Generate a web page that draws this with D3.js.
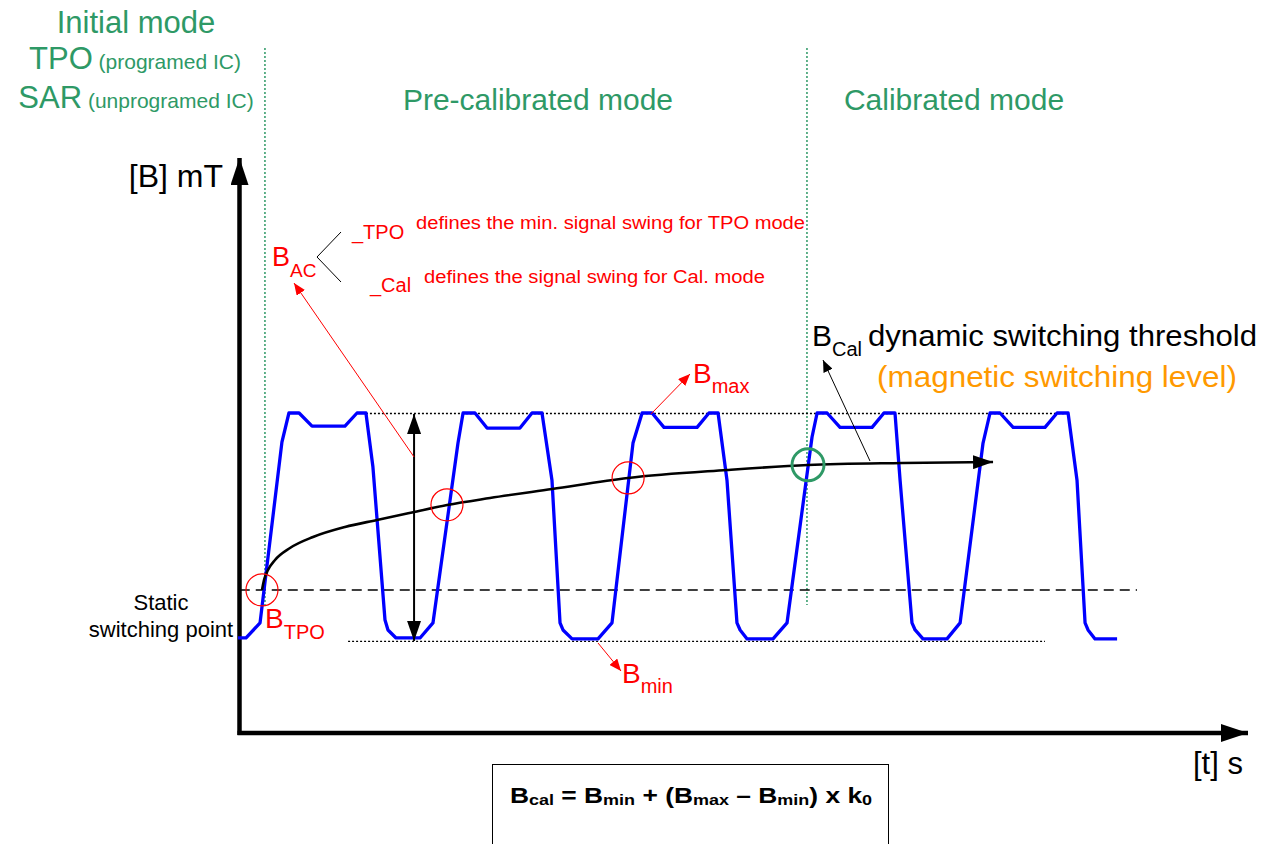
<!DOCTYPE html>
<html><head><meta charset="utf-8">
<script src="https://cdn.jsdelivr.net/npm/d3@7"></script>
<style>
body{margin:0;background:#fff}
svg{display:block}
text{font-family:"Liberation Sans",Arial,Helvetica,sans-serif}
</style>
</head><body>
<svg id="c" width="1273" height="844"></svg>
<script>
// ---------- data ----------
// blue signal: time (arbitrary units, period ~10) and magnetic field B (arbitrary mT units)
const waveT = [0,0.46,1.26,2.51,2.91,3.49,4.23,6.11,6.8,7.31,7.71,8.4,8.57,9.03,
  10.4,11.14,12.57,12.86,13.54,14.23,16.11,16.8,17.37,17.94,18.4,18.57,19.09,
  20.57,21.37,22.57,23.09,23.66,24.34,26.23,26.91,27.43,27.94,28.51,28.69,29.09,
  30.57,31.37,32.8,33.09,33.66,34.4,36.23,36.91,37.54,37.83,38.51,38.69,39.14,
  40.51,41.26,42.57,42.97,43.54,44.29,46.11,46.8,47.43,47.94,48.4,48.57,48.97,50.23];
const waveB = [2.97,2.97,3.44,9.09,10,10,9.59,9.59,10,10,8.31,3.53,3.22,2.97,
  2.97,3.44,9.06,10,10,9.53,9.53,10,10,7.9,3.44,3.22,2.94,
  2.94,3.44,9.06,10,10,9.55,9.55,10,10,7.9,3.44,3.22,2.94,
  2.94,3.44,9.25,10,10,9.55,9.55,10,10,7.9,3.44,3.22,2.94,
  2.94,3.44,9.06,10,10,9.55,9.55,10,10,7.9,3.44,3.22,2.94,2.94];
// dynamic switching threshold (black curve)
const thrT = [1.371,1.486,1.714,2.114,2.971,4.286,6.114,7.943,9.943,11.943,14.4,17.943,22.286,27.943,32.571,37.943,43.143];
const thrB = [4.469,4.781,5.094,5.406,5.781,6.125,6.438,6.656,6.891,7.125,7.344,7.625,7.969,8.219,8.375,8.438,8.469];
// reference levels
const levelNames = ["Bmax","Bmin","static"];
const levelValues = [10, 2.94, 4.47];
const levelStart = [7.31, 6.29, 0.1];
const levelEnd = [47.26, 46.11, 51.37];
// mode boundaries and labels
const modeBoundaries = [1.54, 32.51];
const modeLabels = ["Pre-calibrated mode","Calibrated mode"];
// switching crossings (circles)
const crossT = [1.37, 11.94, 22.29, 32.57];
const crossB = [4.47, 7.13, 7.97, 8.38];
const crossKind = ["tpo","pre","pre","cal"];
// swing arrow position
const swingT = 10.06;

// ---------- scales ----------
const svg = d3.select("#c");
const x = d3.scaleLinear().domain([0, 57.71]).range([238, 1248]);
const y = d3.scaleLinear().domain([0, 10]).range([733, 413]);
const GREEN = "#2e9966", RED = "#ff0000", BLUE = "#0000ff", ORANGE = "#ff9900";

// ---------- markers ----------
const defs = svg.append("defs");
function marker(id, len, hw, color){
  defs.append("marker").attr("id", id).attr("markerUnits","userSpaceOnUse")
    .attr("viewBox", `${-len} ${-hw} ${len} ${2*hw}`)
    .attr("refX", 0).attr("refY", 0)
    .attr("markerWidth", len).attr("markerHeight", 2*hw)
    .attr("orient","auto-start-reverse")
    .append("path").attr("d", `M0,0L${-len},${-hw}L${-len},${hw}Z`).attr("fill", color);
}
marker("axisHead", 27, 9, "#000");
marker("bigHead", 20, 7, "#000");
marker("redHead", 12, 5, RED);
marker("blkHead", 12, 5, "#000");

// ---------- mode divider lines ----------
svg.selectAll(".mode").data(modeBoundaries).join("line")
  .attr("x1", d => x(d)).attr("x2", d => x(d))
  .attr("y1", 48).attr("y2", 605)
  .attr("stroke", GREEN).attr("stroke-width", 1.5).attr("stroke-dasharray","2,2");

// ---------- axes ----------
svg.append("line").attr("x1", x(0)+1.5).attr("x2", x(0)+1.5).attr("y1", y(0)+2).attr("y2", 158)
  .attr("stroke","#000").attr("stroke-width",4.5).attr("marker-end","url(#axisHead)");
svg.append("line").attr("x1", x(0)-0.5).attr("x2", x(57.71)).attr("y1", y(0)).attr("y2", y(0))
  .attr("stroke","#000").attr("stroke-width",4.5).attr("marker-end","url(#axisHead)");

// ---------- level lines ----------
svg.selectAll(".lvl").data(levelNames).join("line")
  .attr("x1", (d,i) => x(levelStart[i])).attr("x2", (d,i) => x(levelEnd[i]))
  .attr("y1", (d,i) => y(levelValues[i]) + (d==="Bmin"?2.5:(d==="Bmax"?0.5:0)))
  .attr("y2", (d,i) => y(levelValues[i]) + (d==="Bmin"?2.5:(d==="Bmax"?0.5:0)))
  .attr("stroke","#000")
  .attr("stroke-width", d => d==="static" ? 1.4 : 1.3)
  .attr("stroke-dasharray", d => d==="static" ? "10,6" : "2,2");

// ---------- blue signal ----------
const wave = waveT.map((t,i) => [t, waveB[i]]);
svg.append("path").datum(wave)
  .attr("d", d3.line().x(d => x(d[0])).y(d => y(d[1])))
  .attr("fill","none").attr("stroke",BLUE).attr("stroke-width",3.3).attr("stroke-linejoin","round");

// ---------- threshold curve ----------
const thr = thrT.map((t,i) => [t, thrB[i]]);
svg.append("path").datum(thr)
  .attr("d", d3.line().curve(d3.curveMonotoneX).x(d => x(d[0])).y(d => y(d[1])))
  .attr("fill","none").attr("stroke","#000").attr("stroke-width",2.6)
  .attr("marker-end","url(#bigHead)");

// ---------- swing double arrow ----------
svg.append("line").attr("x1", x(swingT)).attr("x2", x(swingT))
  .attr("y1", y(levelValues[0])+1).attr("y2", y(levelValues[1])+2)
  .attr("stroke","#000").attr("stroke-width",2)
  .attr("marker-start","url(#bigHead)").attr("marker-end","url(#bigHead)");

// ---------- crossing circles ----------
svg.selectAll(".cross").data(crossT).join("circle")
  .attr("cx", d => x(d)).attr("cy", (d,i) => y(crossB[i]))
  .attr("r", 16).attr("fill","none")
  .attr("stroke", (d,i) => crossKind[i]==="cal" ? GREEN : RED)
  .attr("stroke-width", (d,i) => crossKind[i]==="cal" ? 3 : 1.2);

// ---------- annotation arrows ----------
function arrow(x1,y1,x2,y2,color,mk,w){
  svg.append("line").attr("x1",x1).attr("y1",y1).attr("x2",x2).attr("y2",y2)
    .attr("stroke",color).attr("stroke-width",w||1).attr("marker-end",`url(#${mk})`);
}
arrow(x(swingT), 457, 294, 283, RED, "redHead", 1);       // BAC
arrow(651, 414, 690, 374, RED, "redHead", 1);             // Bmax
arrow(598, 643, 621, 671, RED, "redHead", 1);             // Bmin
arrow(870, 461, 823, 360, "#000", "blkHead", 1);          // BCal

// bracket for BAC
svg.append("path").attr("d","M341,232L317,257L341,282").attr("fill","none")
  .attr("stroke","#000").attr("stroke-width",1);

// ---------- text helpers ----------
function label(px, py, parts, opts){
  opts = opts || {};
  const t = svg.append("text").attr("x",px).attr("y",py)
    .attr("text-anchor", opts.anchor || "start")
    .attr("fill", opts.color || "#000")
    .attr("font-weight", opts.weight || "normal");
  parts.forEach(p => {
    t.append("tspan").attr("font-size", p[1]).attr("dy", p[2]||0).text(p[0]);
  });
  return t;
}

// mode titles
label(136, 33, [["Initial mode",31]], {anchor:"middle", color:GREEN});
label(135, 69, [["TPO",31],[" (programed IC)",21]], {anchor:"middle", color:GREEN});
label(136, 108, [["SAR",31],[" (unprogramed IC)",21]], {anchor:"middle", color:GREEN});
svg.selectAll(".modeLbl").data(modeLabels).join("text")
  .attr("x", (d,i) => i===0 ? 538 : 954).attr("y", 110)
  .attr("text-anchor","middle").attr("fill",GREEN).attr("font-size",30).text(d => d);

// axis labels
label(223, 187, [["[B] mT",32]], {anchor:"end"});
label(1193, 774, [["[t] s",31]]);

// static switching point
label(161, 610, [["Static",22]], {anchor:"middle"});
label(161, 637, [["switching point",22]], {anchor:"middle"});

// B labels
label(265, 628, [["B",28],["TPO",20,11]], {color:RED});
label(272, 266, [["B",27],["AC",19,11]], {color:RED});
label(693, 383, [["B",28],["max",20,10]], {color:RED});
label(622, 683, [["B",28],["min",20,10]], {color:RED});

label(352, 239, [["_TPO",20]], {color:RED});
svg.append("text").attr("x",416).attr("y",229).attr("fill",RED).attr("font-size",17.5)
  .attr("textLength",389).attr("lengthAdjust","spacingAndGlyphs")
  .text("defines the min. signal swing for TPO mode");
label(370, 292, [["_Cal",20]], {color:RED});
svg.append("text").attr("x",424).attr("y",283).attr("fill",RED).attr("font-size",17.5)
  .attr("textLength",341).attr("lengthAdjust","spacingAndGlyphs")
  .text("defines the signal swing for Cal. mode");

// BCal label
label(812, 346, [["B",30],["Cal",20,10]]);
svg.append("text").attr("x",868).attr("y",346).attr("font-size",30)
  .attr("textLength",389).attr("lengthAdjust","spacingAndGlyphs")
  .text("dynamic switching threshold");
svg.append("text").attr("x",877).attr("y",387).attr("font-size",30).attr("fill",ORANGE)
  .attr("textLength",360).attr("lengthAdjust","spacingAndGlyphs")
  .text("(magnetic switching level)");

// formula box
svg.append("rect").attr("x",492.5).attr("y",764.5).attr("width",396).attr("height",120)
  .attr("fill","none").attr("stroke","#000").attr("stroke-width",1);
const fg = svg.append("g").attr("transform","translate(691,803) scale(1.2,1)");
const ft = fg.append("text").attr("x",0).attr("y",0).attr("text-anchor","middle")
  .attr("font-weight","bold").attr("fill","#000");
[["B",22,0],["cal",15,2],[" = B",22,-2],["min",15,2],[" + (B",22,-2],["max",15,2],
 [" \u2013 B",22,-2],["min",15,2],[") x k",22,-2],["0",15,2]].forEach(p => {
  ft.append("tspan").attr("font-size",p[1]).attr("dy",p[2]).text(p[0]);
});
</script>
</body></html>
